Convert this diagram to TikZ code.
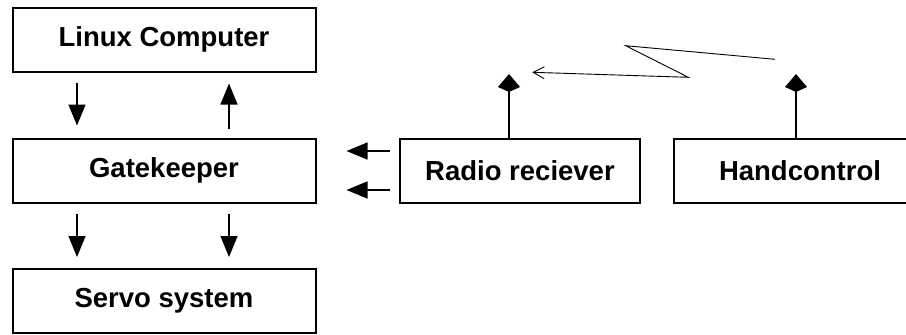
\documentclass[tikz,border=0pt]{standalone}
\usepackage{fontspec}
\setmainfont{Liberation Sans}
\usetikzlibrary{arrows.meta}

\tikzset{
  block/.style={draw=black, line width=2pt, rectangle, inner sep=0pt,
    minimum height=64pt, font=\bfseries\fontsize{27.5}{33}\selectfont},
  dataflow/.style={line width=1.3pt, -{Triangle[length=21pt,width=17pt]}},
  antenna/.style={line width=2pt, -{Kite[length=18pt,width=22pt,inset=5pt]}},
  radiolink/.style={line width=0.9pt, line join=miter,
    -{Straight Barb[length=11pt,width=12pt]}}
}

\begin{document}
\begin{tikzpicture}[x=1pt, y=-1pt]
  \useasboundingbox (0,0) rectangle (906,335);
  \clip (0,0) rectangle (906,335);

  % control chain on the left
  \node[block, minimum width=303pt] (lc) at (164,39.5) {Linux Computer};
  \node[block, minimum width=303pt] (gk) at (164,170.5) {Gatekeeper};
  \node[block, minimum width=303pt] (sv) at (164,301) {Servo system};

  % radio side
  \node[block, minimum width=240pt] (rr) at (520,170.5) {Radio reciever};
  \node[block, minimum width=252pt] (hc) at (800,170.5) {Handcontrol};

  % computer <-> gatekeeper
  \draw[dataflow, shorten <=10pt, shorten >=12pt]
    ([xshift=-87pt]lc.south) -- ([xshift=-87pt]gk.north);
  \draw[dataflow, shorten <=9pt, shorten >=11pt]
    ([xshift=65pt]gk.north) -- ([xshift=65pt]lc.south);

  % gatekeeper -> servos
  \draw[dataflow, shorten <=10pt, shorten >=11pt]
    ([xshift=-87pt]gk.south) -- ([xshift=-87pt]sv.north);
  \draw[dataflow, shorten <=10pt, shorten >=11pt]
    ([xshift=65pt]gk.south) -- ([xshift=65pt]sv.north);

  % receiver -> gatekeeper
  \draw[dataflow, shorten <=9pt, shorten >=30pt]
    ([yshift=19.5pt]rr.west) -- ([yshift=19.5pt]gk.east);
  \draw[dataflow, shorten <=9pt, shorten >=30pt]
    ([yshift=-19.5pt]rr.west) -- ([yshift=-19.5pt]gk.east);

  % antennas
  \coordinate (rrant) at (509,74);
  \coordinate (hcant) at (796,74);
  \draw[antenna] (rrant |- rr.north) -- (rrant);
  \draw[antenna] (hcant |- hc.north) -- (hcant);

  % radio link zigzag
  \coordinate (z1) at (775,59.3);
  \coordinate (z2) at (625.7,45.7);
  \coordinate (z3) at (688.3,77.3);
  \coordinate (z4) at (532.3,72.3);
  \draw[radiolink] (z1) -- (z2) -- (z3) -- (z4);
\end{tikzpicture}
\end{document}
